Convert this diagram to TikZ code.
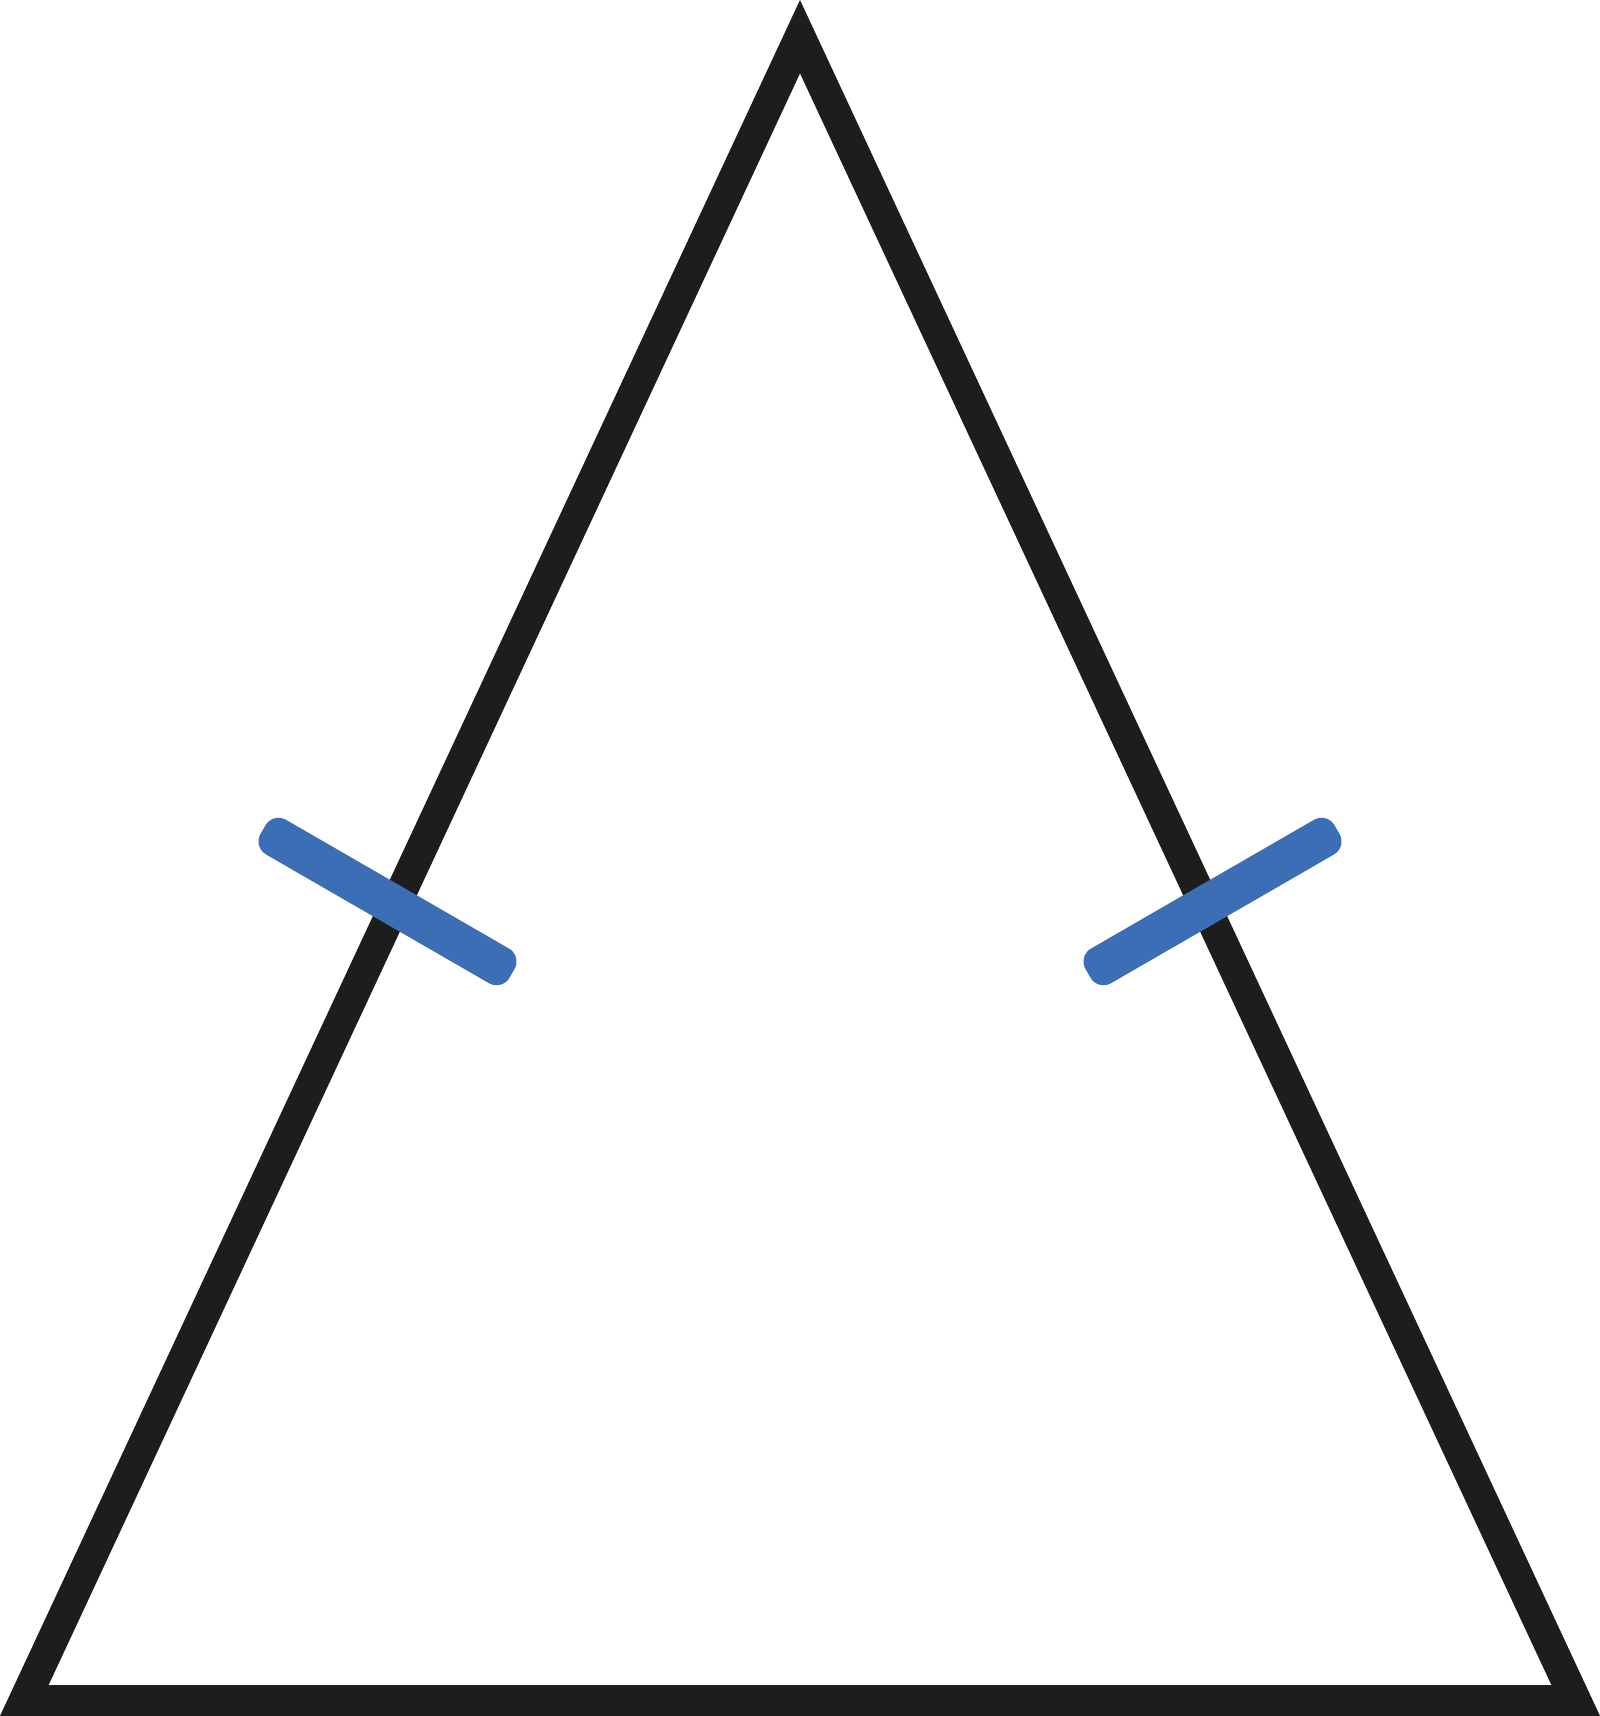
\documentclass[tikz,border=0pt]{standalone}
\definecolor{inkblack}{HTML}{1D1D1B}
\definecolor{tickblue}{HTML}{3B6EB4}
\tikzset{
  tri/.style={draw=inkblack, line width=31pt, line join=miter, miter limit=10},
  tickmark/.style={fill=tickblue, draw=none, rounded corners=15pt, minimum width=287.5pt, minimum height=40pt, inner sep=0pt, outer sep=0pt}
}
\begin{document}
\begin{tikzpicture}[x=1pt, y=-1pt]
\useasboundingbox (0,0) rectangle (1600,1716);
\coordinate (A) at (800,36.7);
\coordinate (B) at (24.3,1700.5);
\coordinate (C) at (1575.7,1700.5);
\draw[tri] (A) -- (B) -- (C) -- cycle;
\node[tickmark, rotate=-30] (tl) at (387.5,901.5) {};
\node[tickmark, rotate=30] (tr) at (1212.5,901.5) {};
\end{tikzpicture}
\end{document}
